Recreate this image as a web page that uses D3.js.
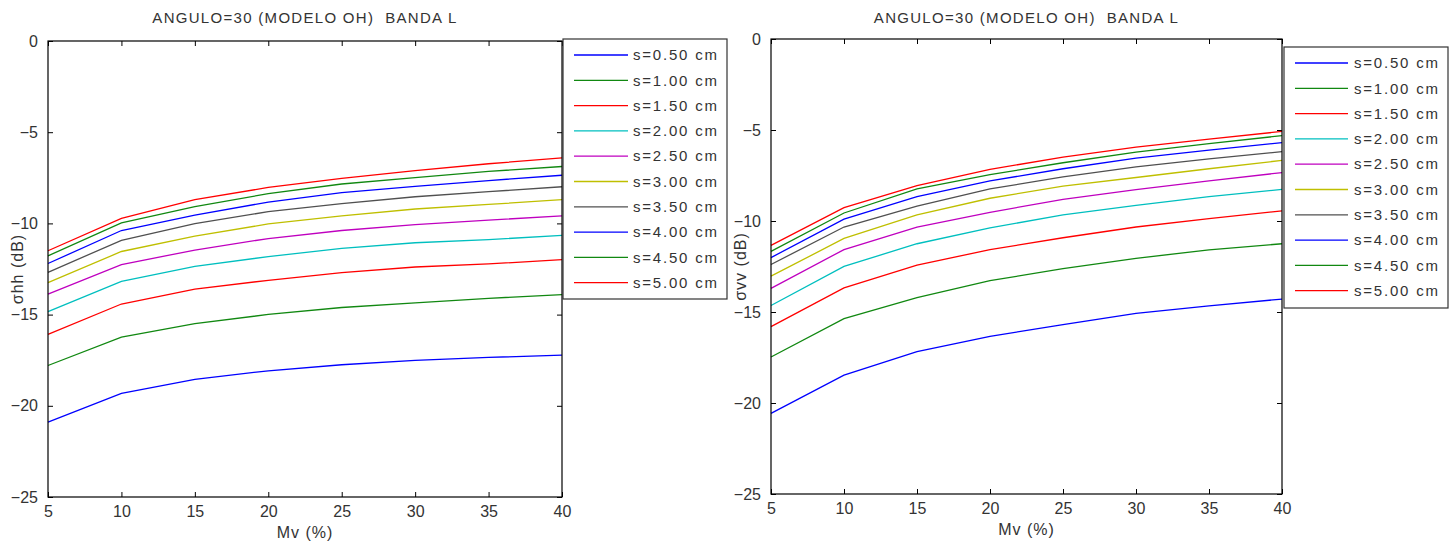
<!DOCTYPE html>
<html>
<head>
<meta charset="utf-8">
<script src="https://cdn.jsdelivr.net/npm/d3@7"></script>
<style>
  html, body { margin: 0; padding: 0; background: #fff; }
  svg { display: block; font-family: "Liberation Sans", Arial, sans-serif; }
  text { white-space: pre; }
</style>
</head>
<body>
<svg id="chart" width="1456" height="546"></svg>
<script>
// ---- data ----
const mv = [5, 10, 15, 20, 25, 30, 35, 40];
const seriesLabels = ["s=0.50 cm", "s=1.00 cm", "s=1.50 cm", "s=2.00 cm", "s=2.50 cm",
                      "s=3.00 cm", "s=3.50 cm", "s=4.00 cm", "s=4.50 cm", "s=5.00 cm"];
const seriesColors = ["#0000ff", "#118811", "#ff0000", "#00bfbf", "#bf00bf",
                      "#bfbf00", "#505050", "#0000ff", "#118811", "#ff0000"];
const xTicks = [5, 10, 15, 20, 25, 30, 35, 40];
const yTicks = [0, -5, -10, -15, -20, -25];
const titleText = "ANGULO=30 (MODELO OH)  BANDA L";

// sigma hh (dB), one array per roughness s
const hh_s050 = [-20.9, -19.32, -18.55, -18.08, -17.75, -17.51, -17.35, -17.22];
const hh_s100 = [-17.79, -16.23, -15.50, -14.99, -14.61, -14.36, -14.11, -13.90];
const hh_s150 = [-16.08, -14.42, -13.60, -13.12, -12.70, -12.39, -12.22, -11.99];
const hh_s200 = [-14.84, -13.18, -12.36, -11.82, -11.37, -11.06, -10.89, -10.66];
const hh_s250 = [-13.88, -12.26, -11.46, -10.83, -10.39, -10.07, -9.82, -9.59];
const hh_s300 = [-13.25, -11.54, -10.70, -10.03, -9.59, -9.21, -8.96, -8.70];
const hh_s350 = [-12.68, -10.93, -10.01, -9.36, -8.92, -8.54, -8.26, -7.99];
const hh_s400 = [-12.2, -10.39, -9.55, -8.83, -8.31, -7.97, -7.65, -7.36];
const hh_s450 = [-11.78, -9.97, -9.08, -8.37, -7.84, -7.49, -7.15, -6.88];
const hh_s500 = [-11.5, -9.73, -8.70, -8.03, -7.53, -7.11, -6.73, -6.41];

// sigma vv (dB)
const vv_s050 = [-20.57, -18.47, -17.18, -16.34, -15.69, -15.08, -14.66, -14.29];
const vv_s100 = [-17.47, -15.36, -14.21, -13.28, -12.62, -12.05, -11.59, -11.25];
const vv_s150 = [-15.80, -13.68, -12.43, -11.57, -10.92, -10.33, -9.87, -9.44];
const vv_s200 = [-14.64, -12.49, -11.25, -10.38, -9.66, -9.14, -8.66, -8.26];
const vv_s250 = [-13.70, -11.57, -10.33, -9.52, -8.81, -8.28, -7.80, -7.34];
const vv_s300 = [-13.03, -10.96, -9.66, -8.75, -8.08, -7.61, -7.13, -6.67];
const vv_s350 = [-12.39, -10.33, -9.18, -8.24, -7.57, -7.03, -6.59, -6.19];
const vv_s400 = [-12.01, -9.90, -8.66, -7.80, -7.13, -6.55, -6.11, -5.69];
const vv_s450 = [-11.67, -9.56, -8.24, -7.45, -6.80, -6.21, -5.75, -5.31];
const vv_s500 = [-11.34, -9.27, -8.05, -7.16, -6.49, -5.94, -5.50, -5.08];

const hhSeries = [hh_s050, hh_s100, hh_s150, hh_s200, hh_s250, hh_s300, hh_s350, hh_s400, hh_s450, hh_s500];
const vvSeries = [vv_s050, vv_s100, vv_s150, vv_s200, vv_s250, vv_s300, vv_s350, vv_s400, vv_s450, vv_s500];

const svg = d3.select("#chart");

function drawPanel(p) {
  const x = d3.scaleLinear().domain([5, 40]).range([p.left, p.right]);
  const y = d3.scaleLinear().domain([-25, 0]).range([p.bottom, p.top]);
  const g = svg.append("g");
  const tickLen = 5;
  const txtColor = "#333";
  const ff = "Liberation Sans, Arial, sans-serif";

  // title
  g.append("text").attr("x", (p.left + p.right) / 2).attr("y", 23)
    .attr("text-anchor", "middle").attr("font-size", 15).attr("letter-spacing", "1.3px")
    .attr("fill", txtColor).text(titleText);

  // bottom axis
  const xAxis = d3.axisBottom(x).tickValues(xTicks).tickSize(-tickLen).tickPadding(9).tickFormat(d3.format("d"));
  const gx = g.append("g").attr("transform", `translate(0,${p.bottom})`).call(xAxis);
  gx.select(".domain").remove();
  gx.selectAll("text").attr("font-size", 16).attr("fill", txtColor).attr("font-family", ff);
  gx.selectAll("line").attr("stroke", "#000");

  const xAxisTop = d3.axisTop(x).tickValues(xTicks).tickSize(-tickLen).tickFormat("");
  const gxt = g.append("g").attr("transform", `translate(0,${p.top})`).call(xAxisTop);
  gxt.select(".domain").remove();
  gxt.selectAll("line").attr("stroke", "#000");

  // left axis
  const yAxis = d3.axisLeft(y).tickValues(yTicks).tickSize(-tickLen).tickPadding(10).tickFormat(d3.format("d"));
  const gy = g.append("g").attr("transform", `translate(${p.left},0)`).call(yAxis);
  gy.select(".domain").remove();
  gy.selectAll("text").attr("font-size", 16).attr("fill", txtColor).attr("font-family", ff);
  gy.selectAll("line").attr("stroke", "#000");

  const yAxisR = d3.axisRight(y).tickValues(yTicks).tickSize(-tickLen).tickFormat("");
  const gyr = g.append("g").attr("transform", `translate(${p.right},0)`).call(yAxisR);
  gyr.select(".domain").remove();
  gyr.selectAll("line").attr("stroke", "#000");

  // axis labels
  g.append("text").attr("x", (p.left + p.right) / 2).attr("y", p.bottom + 41)
    .attr("text-anchor", "middle").attr("font-size", 16).attr("letter-spacing", "1px").attr("fill", txtColor)
    .text("Mv (%)");
  g.append("text")
    .attr("transform", `translate(${p.left - 25},${(p.top + p.bottom) / 2}) rotate(-90)`)
    .attr("text-anchor", "middle").attr("font-size", 16).attr("letter-spacing", "1px").attr("fill", txtColor)
    .text(p.ylabel);

  // lines
  const line = d3.line().x((d, i) => x(mv[i])).y(d => y(d));
  g.append("g").selectAll("path").data(p.series).join("path")
    .attr("d", d => line(d)).attr("fill", "none")
    .attr("stroke", (d, i) => seriesColors[i]).attr("stroke-width", 1.3);

  // box
  g.append("rect").attr("x", p.left).attr("y", p.top)
    .attr("width", p.right - p.left).attr("height", p.bottom - p.top)
    .attr("fill", "none").attr("stroke", "#000").attr("stroke-width", 1.2);

  // legend
  const L = p.legend;
  const lg = svg.append("g");
  lg.append("rect").attr("x", L.x0).attr("y", L.y0).attr("width", L.x1 - L.x0).attr("height", L.y1 - L.y0)
    .attr("fill", "#fff").attr("stroke", "#333").attr("stroke-width", 1.2);
  const items = lg.selectAll("g.item").data(seriesLabels).join("g").attr("class", "item")
    .attr("transform", (d, i) => `translate(0,${L.firstY + i * L.step})`);
  items.append("line").attr("x1", L.lineX0).attr("x2", L.lineX1).attr("y1", 0).attr("y2", 0)
    .attr("stroke", (d, i) => seriesColors[i]).attr("stroke-width", 1.3);
  items.append("text").attr("x", L.textX).attr("y", 0).attr("dy", "0.35em")
    .attr("font-size", 15).attr("letter-spacing", "1.8px").attr("fill", txtColor)
    .text(d => d);
}

drawPanel({
  left: 48, right: 562, top: 41, bottom: 497,
  ylabel: "σhh (dB)", series: hhSeries,
  legend: { x0: 563, x1: 727, y0: 39, y1: 299, firstY: 55, step: 25.3, lineX0: 574, lineX1: 628, textX: 633 }
});
drawPanel({
  left: 771, right: 1282, top: 39, bottom: 494,
  ylabel: "σvv (dB)", series: vvSeries,
  legend: { x0: 1284, x1: 1448, y0: 47, y1: 308, firstY: 63, step: 25.3, lineX0: 1295, lineX1: 1348, textX: 1354 }
});
</script>
</body>
</html>
